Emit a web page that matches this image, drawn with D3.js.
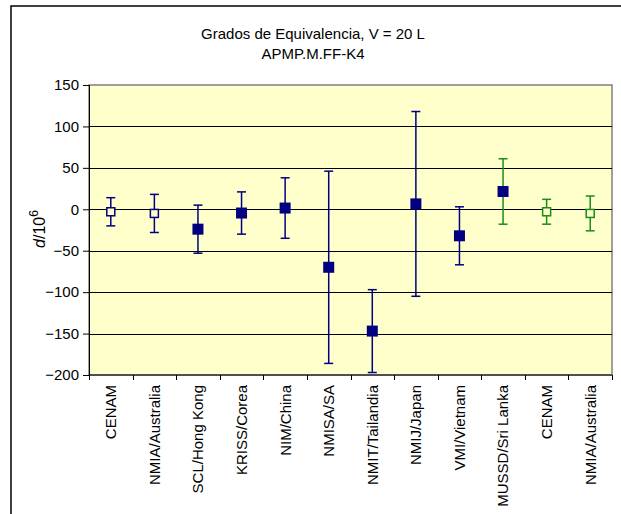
<!DOCTYPE html>
<html>
<head>
<meta charset="utf-8">
<script src="https://cdn.jsdelivr.net/npm/d3@7"></script>
<style>
  body { margin: 0; background: #fff; }
  text { font-family: Arial, "Liberation Sans", sans-serif; fill: #000; }
</style>
</head>
<body>
<div id="chart"></div>
<script>
// Chart data

var categories = ["CENAM", "NMIA/Australia", "SCL/Hong Kong", "KRISS/Corea", "NIM/China",
                  "NMISA/SA", "NMIT/Tailandia", "NMIJ/Japan", "VMI/Vietnam",
                  "MUSSD/Sri Lanka", "CENAM", "NMIA/Australia"];
var values = [-3, -5, -24, -4.5, 1.5, -70, -147, 6.5, -32, 21.5, -3, -5];
var uncert = [17, 23, 29, 25.5, 36.5, 116, 50, 111.5, 35, 39.5, 15, 21];
var filled = [false, false, true, true, true, true, true, true, true, true, false, false];
var markerColor = ["navy", "navy", "navy", "navy", "navy", "navy", "navy", "navy", "navy", "navy", "green", "green"];
var barColor = ["navy", "navy", "navy", "navy", "navy", "navy", "navy", "navy", "navy", "green", "green", "green"];
var yTicks = [-200, -150, -100, -50, 0, 50, 100, 150];
var gridTicks = [-150, -100, -50, 0, 50, 100];
var titleLines = ["Grados de Equivalencia, V = 20 L", "APMP.M.FF-K4"];

var width = 621,
    height = 514;

var plot = {left: 89, right: 612, top: 85, bottom: 375};

var colors = {navy: "#000080", green: "#1a8c1a"};

var svg = d3.select("#chart").append("svg")
    .attr("width", width)
    .attr("height", height);

// outer chart frame (runs off the right and bottom of the picture)
svg.append("rect")
    .attr("x", 11)
    .attr("y", 6)
    .attr("width", 700)
    .attr("height", 600)
    .attr("fill", "#fff")
    .attr("stroke", "#000")
    .attr("stroke-width", 1.5);

var idx = d3.range(categories.length);

var x = d3.scaleBand()
    .domain(idx)
    .range([plot.left, plot.right])
    .padding(0);

var y = d3.scaleLinear()
    .domain([-200, 150])
    .range([plot.bottom, plot.top]);

// title
svg.selectAll(".title")
    .data(titleLines)
    .enter().append("text")
    .attr("class", "title")
    .attr("x", 313)
    .attr("y", function(d, i) { return 39 + i * 19.5; })
    .attr("text-anchor", "middle")
    .style("font-size", "15px")
    .text(function(d) { return d; });

// plot area
svg.append("rect")
    .attr("x", plot.left)
    .attr("y", plot.top)
    .attr("width", plot.right - plot.left)
    .attr("height", plot.bottom - plot.top)
    .attr("fill", "#ffffcc")
    .attr("stroke", "#808080")
    .attr("stroke-width", 1.5);

svg.selectAll(".grid")
    .data(gridTicks)
    .enter().append("line")
    .attr("class", "grid")
    .attr("x1", plot.left)
    .attr("x2", plot.right)
    .attr("y1", function(d) { return Math.round(y(d)) + 0.5; })
    .attr("y2", function(d) { return Math.round(y(d)) + 0.5; })
    .attr("stroke", "#000")
    .attr("stroke-width", 1);

// y axis
var yAxis = svg.append("g")
    .attr("transform", "translate(" + plot.left + ",0)")
    .call(d3.axisLeft(y).tickValues(yTicks).tickSize(6).tickPadding(4));

yAxis.select(".domain").attr("stroke", "#000");
yAxis.selectAll("text")
    .style("font-size", "15px")
    .style("font-family", "Arial, 'Liberation Sans', sans-serif");

// x axis: ticks between categories
svg.append("line")
    .attr("x1", plot.left)
    .attr("x2", plot.right)
    .attr("y1", plot.bottom)
    .attr("y2", plot.bottom)
    .attr("stroke", "#000");

svg.selectAll(".xtick")
    .data(d3.range(categories.length + 1))
    .enter().append("line")
    .attr("class", "xtick")
    .attr("x1", function(d) { return Math.round(plot.left + d * x.bandwidth()) + 0.5; })
    .attr("x2", function(d) { return Math.round(plot.left + d * x.bandwidth()) + 0.5; })
    .attr("y1", plot.bottom)
    .attr("y2", plot.bottom + 5)
    .attr("stroke", "#000");

svg.selectAll(".xlabel")
    .data(idx)
    .enter().append("text")
    .attr("class", "xlabel")
    .attr("transform", function(d) {
        return "translate(" + (x(d) + x.bandwidth() / 2) + "," + (plot.bottom + 10) + ") rotate(-90)";
    })
    .attr("text-anchor", "end")
    .attr("dy", "0.36em")
    .style("font-size", "15px")
    .text(function(d) { return categories[d]; });

// y axis title
var yTitle = svg.append("text")
    .attr("transform", "translate(45," + 229 + ") rotate(-90)")
    .attr("text-anchor", "middle")
    .style("font-size", "16px");
yTitle.append("tspan").style("font-style", "italic").text("d");
yTitle.append("tspan").text("/10");
yTitle.append("tspan").attr("dy", -7).style("font-size", "12px").text("6");

// error bars
var capW = 9;
var bars = svg.selectAll(".err")
    .data(idx)
    .enter().append("g")
    .attr("class", "err")
    .attr("stroke", function(d) { return colors[barColor[d]]; })
    .attr("stroke-width", 1.5);

bars.append("line")
    .attr("x1", function(d) { return x(d) + x.bandwidth() / 2; })
    .attr("x2", function(d) { return x(d) + x.bandwidth() / 2; })
    .attr("y1", function(d) { return y(values[d] + uncert[d]); })
    .attr("y2", function(d) { return y(values[d] - uncert[d]); });

bars.append("line")
    .attr("x1", function(d) { return x(d) + x.bandwidth() / 2 - capW / 2; })
    .attr("x2", function(d) { return x(d) + x.bandwidth() / 2 + capW / 2; })
    .attr("y1", function(d) { return y(values[d] + uncert[d]); })
    .attr("y2", function(d) { return y(values[d] + uncert[d]); });

bars.append("line")
    .attr("x1", function(d) { return x(d) + x.bandwidth() / 2 - capW / 2; })
    .attr("x2", function(d) { return x(d) + x.bandwidth() / 2 + capW / 2; })
    .attr("y1", function(d) { return y(values[d] - uncert[d]); })
    .attr("y2", function(d) { return y(values[d] - uncert[d]); });

// markers
svg.selectAll(".marker")
    .data(idx)
    .enter().append("rect")
    .attr("class", "marker")
    .attr("x", function(d) { return x(d) + x.bandwidth() / 2 - (filled[d] ? 5.5 : 4); })
    .attr("y", function(d) { return y(values[d]) - (filled[d] ? 5.5 : 4); })
    .attr("width", function(d) { return filled[d] ? 11 : 8; })
    .attr("height", function(d) { return filled[d] ? 11 : 8; })
    .attr("fill", function(d) { return filled[d] ? colors[markerColor[d]] : "#ffffcc"; })
    .attr("stroke", function(d) { return colors[markerColor[d]]; })
    .attr("stroke-width", function(d) { return filled[d] ? 0 : 1.5; });
</script>
</body>
</html>
